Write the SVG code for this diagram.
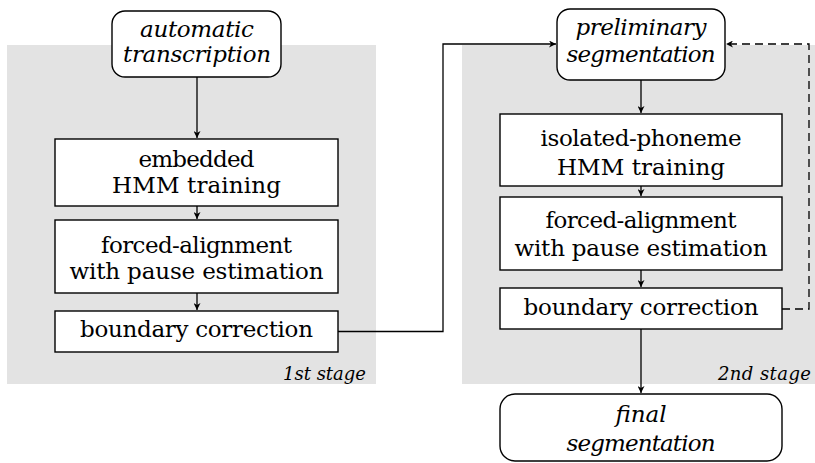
<svg xmlns="http://www.w3.org/2000/svg" width="815" height="463" viewBox="0 0 815 463">
<style>
.bg{fill:#e3e3e3;stroke:none}
.box{fill:#fff;stroke:#000;stroke-width:1.4}
text{font-family:'DejaVu Serif',serif}
.t{font-size:23px;fill:#000;text-anchor:middle}
.i{font-style:italic}
.lbl{font-size:18px;font-style:italic;fill:#000;text-anchor:end}
.c{fill:none;stroke:#000;stroke-width:1.3}
.d{stroke-dasharray:8 5}
</style>
<defs>
<marker id="ah" viewBox="0 0 10 10" refX="10" refY="5" markerWidth="7" markerHeight="7" markerUnits="userSpaceOnUse" orient="auto">
<path d="M0,0 L10,5 L0,10 L3,5 Z" fill="#000"/>
</marker>
</defs>
<g id="stage1">
<rect class="bg" x="7" y="45" width="369" height="339"/>
<text class="lbl" x="366" y="380" textLength="83">1st stage</text>
</g>
<g id="stage2">
<rect class="bg" x="462" y="45" width="353" height="339"/>
<text class="lbl" x="811" y="380" textLength="93">2nd stage</text>
</g>
<g id="connectors">
<path class="c" d="M197,77 V138" marker-end="url(#ah)"/>
<path class="c" d="M197,206 V219" marker-end="url(#ah)"/>
<path class="c" d="M197,293 V310" marker-end="url(#ah)"/>
<path class="c" d="M338,331.5 H443 V44 H556" marker-end="url(#ah)"/>
<path class="c" d="M641,80 V113" marker-end="url(#ah)"/>
<path class="c" d="M641,186 V196" marker-end="url(#ah)"/>
<path class="c" d="M641,270 V287" marker-end="url(#ah)"/>
<path class="c" d="M641,329 V393" marker-end="url(#ah)"/>
<path class="c d" d="M782,309 H809 V44 H726" marker-end="url(#ah)"/>
</g>
<g id="auto-transcription">
<rect class="box" x="112" y="11" width="169" height="66" rx="13"/>
<text class="t i" x="197" y="37" textLength="114">automatic</text>
<text class="t i" x="197" y="62" textLength="148">transcription</text>
</g>
<g id="embedded-hmm">
<rect class="box" x="55" y="139" width="283" height="67"/>
<text class="t" x="196.5" y="167" textLength="116">embedded</text>
<text class="t" x="196.5" y="193" textLength="169">HMM training</text>
</g>
<g id="forced-alignment-1">
<rect class="box" x="55" y="220" width="283" height="73"/>
<text class="t" x="196.5" y="253" textLength="191">forced-alignment</text>
<text class="t" x="196.5" y="279" textLength="254">with pause estimation</text>
</g>
<g id="boundary-1">
<rect class="box" x="55" y="311" width="283" height="41"/>
<text class="t" x="196.5" y="337" textLength="233">boundary correction</text>
</g>
<g id="preliminary-segmentation">
<rect class="box" x="557" y="9" width="168" height="71" rx="13"/>
<text class="t i" x="641" y="35" textLength="131">preliminary</text>
<text class="t i" x="641" y="62" textLength="149">segmentation</text>
</g>
<g id="isolated-hmm">
<rect class="box" x="500" y="114" width="282" height="72"/>
<text class="t" x="641" y="146" textLength="201">isolated-phoneme</text>
<text class="t" x="641" y="175" textLength="168">HMM training</text>
</g>
<g id="forced-alignment-2">
<rect class="box" x="500" y="197" width="282" height="73"/>
<text class="t" x="641" y="228" textLength="191">forced-alignment</text>
<text class="t" x="641" y="256" textLength="253">with pause estimation</text>
</g>
<g id="boundary-2">
<rect class="box" x="500" y="288" width="282" height="41"/>
<text class="t" x="641" y="315" textLength="235">boundary correction</text>
</g>
<g id="final-segmentation">
<rect class="box" x="500" y="394" width="282" height="67" rx="15"/>
<text class="t i" x="641" y="422">final</text>
<text class="t i" x="641" y="451" textLength="149">segmentation</text>
</g>
</svg>
